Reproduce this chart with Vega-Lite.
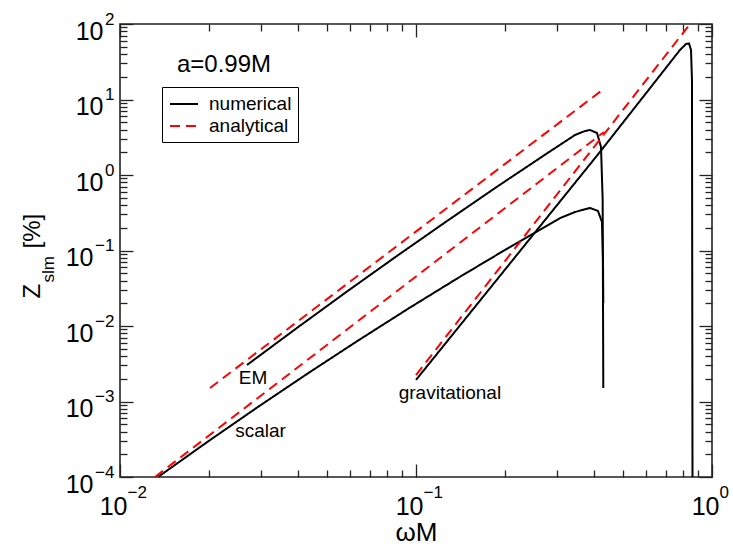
{
  "$schema": "https://vega.github.io/schema/vega-lite/v6.json",
  "width": 592,
  "height": 453,
  "autosize": {"type": "none"},
  "padding": {"left": 120, "top": 24, "right": 21, "bottom": 76},
  "background": "white",
  "config": {
    "font": "Liberation Sans",
    "view": {"stroke": "#222", "strokeWidth": 1.6},
    "axis": {"grid": false, "domain": false, "labelColor": "black", "titleColor": "black", "titleFontWeight": "normal", "labelFlush": false, "labelOverlap": false, "labelBound": false, "tickColor": "#222", "tickWidth": 1.3}
  },
  "datasets": {
    "lines": [
      {"c": "sn", "t": "numerical", "i": 1, "x": 0.01344, "y": 0.0001},
      {"c": "sn", "t": "numerical", "i": 2, "x": 0.01983, "y": 0.0002954},
      {"c": "sn", "t": "numerical", "i": 3, "x": 0.02926, "y": 0.0008485},
      {"c": "sn", "t": "numerical", "i": 4, "x": 0.04316, "y": 0.002363},
      {"c": "sn", "t": "numerical", "i": 5, "x": 0.06369, "y": 0.006406},
      {"c": "sn", "t": "numerical", "i": 6, "x": 0.09397, "y": 0.0169},
      {"c": "sn", "t": "numerical", "i": 7, "x": 0.1386, "y": 0.04323},
      {"c": "sn", "t": "numerical", "i": 8, "x": 0.2045, "y": 0.1073},
      {"c": "sn", "t": "numerical", "i": 9, "x": 0.3066, "y": 0.2686},
      {"c": "sn", "t": "numerical", "i": 10, "x": 0.3445, "y": 0.3235},
      {"c": "sn", "t": "numerical", "i": 11, "x": 0.3871, "y": 0.366},
      {"c": "sn", "t": "numerical", "i": 12, "x": 0.4119, "y": 0.334},
      {"c": "sn", "t": "numerical", "i": 13, "x": 0.4249, "y": 0.2385},
      {"c": "sn", "t": "numerical", "i": 14, "x": 0.4283, "y": 0.0748},
      {"c": "sn", "t": "numerical", "i": 15, "x": 0.4293, "y": 0.0202},
      {"c": "en", "t": "numerical", "i": 1, "x": 0.02685, "y": 0.003043},
      {"c": "en", "t": "numerical", "i": 2, "x": 0.03963, "y": 0.009436},
      {"c": "en", "t": "numerical", "i": 3, "x": 0.05846, "y": 0.02864},
      {"c": "en", "t": "numerical", "i": 4, "x": 0.08626, "y": 0.08482},
      {"c": "en", "t": "numerical", "i": 5, "x": 0.1273, "y": 0.2459},
      {"c": "en", "t": "numerical", "i": 6, "x": 0.1877, "y": 0.698},
      {"c": "en", "t": "numerical", "i": 7, "x": 0.277, "y": 1.932},
      {"c": "en", "t": "numerical", "i": 8, "x": 0.3445, "y": 3.387},
      {"c": "en", "t": "numerical", "i": 9, "x": 0.3724, "y": 3.826},
      {"c": "en", "t": "numerical", "i": 10, "x": 0.3871, "y": 3.945},
      {"c": "en", "t": "numerical", "i": 11, "x": 0.4088, "y": 3.6},
      {"c": "en", "t": "numerical", "i": 12, "x": 0.4217, "y": 2.349},
      {"c": "en", "t": "numerical", "i": 13, "x": 0.4272, "y": 0.4666},
      {"c": "en", "t": "numerical", "i": 14, "x": 0.4293, "y": 0.00151},
      {"c": "gn", "t": "numerical", "i": 1, "x": 0.1, "y": 0.00193},
      {"c": "gn", "t": "numerical", "i": 2, "x": 0.4183, "y": 2.02},
      {"c": "gn", "t": "numerical", "i": 3, "x": 0.7795, "y": 45.3},
      {"c": "gn", "t": "numerical", "i": 4, "x": 0.817, "y": 54.3},
      {"c": "gn", "t": "numerical", "i": 5, "x": 0.8361, "y": 55.2},
      {"c": "gn", "t": "numerical", "i": 6, "x": 0.8494, "y": 45.3},
      {"c": "gn", "t": "numerical", "i": 7, "x": 0.8557, "y": 18.1},
      {"c": "gn", "t": "numerical", "i": 8, "x": 0.8592, "y": 0.0001},
      {"c": "gn", "t": "numerical", "i": 9, "x": 0.8595, "y": 0.00005},
      {"c": "sa", "t": "analytical", "i": 1, "x": 0.01313, "y": 0.0001},
      {"c": "sa", "t": "analytical", "i": 2, "x": 0.4316, "y": 3.71},
      {"c": "ea", "t": "analytical", "i": 1, "x": 0.02014, "y": 0.00151},
      {"c": "ea", "t": "analytical", "i": 2, "x": 0.435, "y": 14.2},
      {"c": "ga", "t": "analytical", "i": 1, "x": 0.1, "y": 0.00224},
      {"c": "ga", "t": "analytical", "i": 2, "x": 0.843, "y": 100}
    ],
    "labels": [
      {"label": "EM", "x": 0.02813, "y": 0.001705},
      {"label": "scalar", "x": 0.02983, "y": 0.0003387},
      {"label": "gravitational", "x": 0.1302, "y": 0.001079}
    ],
    "note": [
      {"label": "a=0.99M", "x": 0.01557, "y": 23.35}
    ]
  },
  "layer": [
    {
      "data": {"name": "lines"},
      "transform": [{"filter": "datum.t == 'numerical'"}],
      "mark": {"type": "line", "strokeWidth": 2, "clip": true},
      "encoding": {
        "x": {"field": "x", "type": "quantitative", "scale": {"type": "log", "domain": [0.01, 1], "nice": false},
          "axis": {"orient": "bottom", "values": [0.01, 0.1, 1], "labelExpr": "'10'", "ticks": false, "labelFontSize": 25, "labelAlign": "right", "labelBaseline": "alphabetic", "labelPadding": 37, "labelOffset": 7,
            "title": "ωM", "titleFontSize": 26, "titleX": 296, "titleY": 63, "titleAlign": "center", "titleBaseline": "alphabetic", "titleAngle": 0}},
        "y": {"field": "y", "type": "quantitative", "scale": {"type": "log", "domain": [0.0001, 100], "nice": false},
          "axis": {"orient": "left", "values": [0.0001, 0.001, 0.01, 0.1, 1, 10, 100], "labelExpr": "'10'", "ticks": false, "labelFontSize": 25, "labelAlign": "right", "labelBaseline": "alphabetic",
            "labelPadding": {"condition": {"test": "datum.value < 0.5", "value": 27}, "value": 17}, "labelOffset": 15,
            "title": "Z", "titleFontSize": 24, "titleAngle": -90, "titleX": -81, "titleY": 274, "titleAlign": "left", "titleBaseline": "alphabetic"}},
        "detail": {"field": "c"},
        "order": {"field": "i", "type": "quantitative"},
        "color": {"field": "t", "type": "nominal", "scale": {"domain": ["numerical", "analytical"], "range": ["black", "#ff0000"]},
          "legend": {"title": null, "orient": "none", "legendX": 42, "legendY": 63, "symbolType": "M-1.4,0L1.4,0", "symbolSize": 400, "symbolOffset": 5, "symbolStrokeWidth": 2, "labelFontSize": 19, "labelColor": "black", "labelOffset": 14, "strokeColor": "black", "fillColor": "white", "padding": 6, "rowPadding": 1}},
        "strokeDash": {"field": "t", "type": "nominal", "scale": {"domain": ["numerical", "analytical"], "range": [[1, 0], [10, 6]]},
          "legend": {"title": null, "orient": "none", "legendX": 42, "legendY": 63, "symbolType": "M-1.4,0L1.4,0", "symbolSize": 400, "symbolOffset": 5, "symbolStrokeWidth": 2, "labelFontSize": 19, "labelColor": "black", "labelOffset": 14, "strokeColor": "black", "fillColor": "white", "padding": 6, "rowPadding": 1}}
      }
    },
    {
      "data": {"name": "lines"},
      "transform": [{"filter": "datum.t == 'analytical'"}],
      "mark": {"type": "line", "strokeWidth": 2, "clip": true},
      "encoding": {
        "x": {"field": "x", "type": "quantitative", "scale": {"type": "log", "domain": [0.01, 1], "nice": false},
          "axis": {"orient": "bottom", "values": [0.01, 0.1, 1], "labelExpr": "replace('' + round(log(datum.value)/LN10), '-', '−')", "ticks": false, "labelFontSize": 17, "labelAlign": "left", "labelBaseline": "alphabetic", "labelPadding": 20, "labelOffset": 7, "title": null}},
        "y": {"field": "y", "type": "quantitative", "scale": {"type": "log", "domain": [0.0001, 100], "nice": false},
          "axis": {"orient": "left", "values": [0.0001, 0.001, 0.01, 0.1, 1, 10, 100], "labelExpr": "replace('' + round(log(datum.value)/LN10), '-', '−')", "ticks": false, "labelFontSize": 17, "labelAlign": "right", "labelBaseline": "alphabetic", "labelPadding": 6, "labelOffset": 0,
            "title": "slm", "titleFontSize": 17, "titleAngle": -90, "titleX": -67, "titleY": 258, "titleAlign": "left", "titleBaseline": "alphabetic"}},
        "detail": {"field": "c"},
        "order": {"field": "i", "type": "quantitative"},
        "color": {"field": "t", "type": "nominal", "scale": {"domain": ["numerical", "analytical"], "range": ["black", "#ff0000"]}},
        "strokeDash": {"field": "t", "type": "nominal", "scale": {"domain": ["numerical", "analytical"], "range": [[1, 0], [10, 6]]}}
      }
    },
    {
      "data": {"name": "labels"},
      "mark": {"type": "text", "fontSize": 19, "align": "center", "baseline": "alphabetic", "color": "black"},
      "encoding": {
        "x": {"field": "x", "type": "quantitative", "scale": {"type": "log", "domain": [0.01, 1], "nice": false},
          "axis": {"orient": "bottom", "values": [0.01, 0.02, 0.03, 0.04, 0.05, 0.06, 0.07, 0.08, 0.09, 0.1, 0.2, 0.3, 0.4, 0.5, 0.6, 0.7, 0.8, 0.9, 1], "labels": false, "ticks": true,
            "tickSize": {"condition": {"test": "abs(log(datum.value)/LN10 - round(log(datum.value)/LN10)) < 0.000001", "value": -13}, "value": -7}, "title": null}},
        "y": {"field": "y", "type": "quantitative", "scale": {"type": "log", "domain": [0.0001, 100], "nice": false},
          "axis": {"orient": "left", "values": [0.0001, 0.0002, 0.0003, 0.0004, 0.0005, 0.0006, 0.0007, 0.0008, 0.0009, 0.001, 0.002, 0.003, 0.004, 0.005, 0.006, 0.007, 0.008, 0.009, 0.01, 0.02, 0.03, 0.04, 0.05, 0.06, 0.07, 0.08, 0.09, 0.1, 0.2, 0.3, 0.4, 0.5, 0.6, 0.7, 0.8, 0.9, 1, 2, 3, 4, 5, 6, 7, 8, 9, 10, 20, 30, 40, 50, 60, 70, 80, 90, 100], "labels": false, "ticks": true,
            "tickSize": {"condition": {"test": "abs(log(datum.value)/LN10 - round(log(datum.value)/LN10)) < 0.000001", "value": -13}, "value": -7},
            "title": "[%]", "titleFontSize": 24, "titleAngle": -90, "titleX": -81, "titleY": 224, "titleAlign": "left", "titleBaseline": "alphabetic"}},
        "text": {"field": "label"}
      }
    },
    {
      "data": {"name": "note"},
      "mark": {"type": "text", "fontSize": 24, "align": "left", "baseline": "alphabetic", "color": "black"},
      "encoding": {
        "x": {"field": "x", "type": "quantitative", "scale": {"type": "log", "domain": [0.01, 1], "nice": false},
          "axis": {"orient": "top", "values": [0.01, 0.02, 0.03, 0.04, 0.05, 0.06, 0.07, 0.08, 0.09, 0.1, 0.2, 0.3, 0.4, 0.5, 0.6, 0.7, 0.8, 0.9, 1], "labels": false, "ticks": true,
            "tickSize": {"condition": {"test": "abs(log(datum.value)/LN10 - round(log(datum.value)/LN10)) < 0.000001", "value": -13}, "value": -7}, "title": null}},
        "y": {"field": "y", "type": "quantitative", "scale": {"type": "log", "domain": [0.0001, 100], "nice": false},
          "axis": {"orient": "right", "values": [0.0001, 0.0002, 0.0003, 0.0004, 0.0005, 0.0006, 0.0007, 0.0008, 0.0009, 0.001, 0.002, 0.003, 0.004, 0.005, 0.006, 0.007, 0.008, 0.009, 0.01, 0.02, 0.03, 0.04, 0.05, 0.06, 0.07, 0.08, 0.09, 0.1, 0.2, 0.3, 0.4, 0.5, 0.6, 0.7, 0.8, 0.9, 1, 2, 3, 4, 5, 6, 7, 8, 9, 10, 20, 30, 40, 50, 60, 70, 80, 90, 100], "labels": false, "ticks": true,
            "tickSize": {"condition": {"test": "abs(log(datum.value)/LN10 - round(log(datum.value)/LN10)) < 0.000001", "value": -13}, "value": -7}, "title": null}},
        "text": {"field": "label"}
      }
    }
  ],
  "resolve": {"scale": {"x": "shared", "y": "shared"}, "axis": {"x": "independent", "y": "independent"}}
}
